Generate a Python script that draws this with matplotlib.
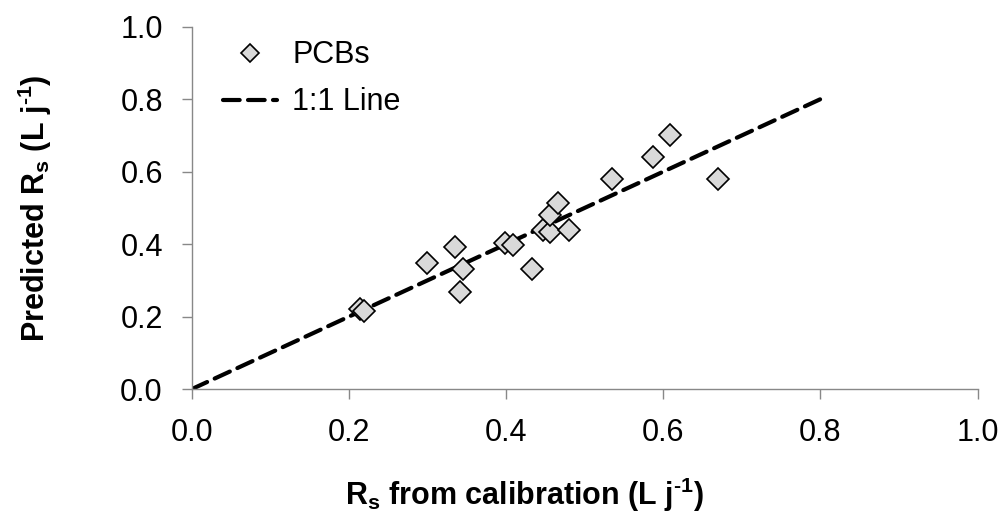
import matplotlib
matplotlib.use("Agg")
import matplotlib.pyplot as plt

plt.rcParams['font.family'] = ['Liberation Sans', 'DejaVu Sans']
plt.rcParams['mathtext.fontset'] = 'custom'
plt.rcParams['mathtext.rm'] = 'Liberation Sans'
plt.rcParams['mathtext.bf'] = 'Liberation Sans:bold'

# Rs from calibration vs predicted Rs (L j-1)
rs_calib = [0.214, 0.219, 0.299, 0.335, 0.341, 0.345, 0.399, 0.408, 0.433,
            0.447, 0.456, 0.456, 0.466, 0.480, 0.534, 0.587, 0.608, 0.670]
rs_pred = [0.220, 0.215, 0.348, 0.392, 0.268, 0.331, 0.403, 0.397, 0.331,
           0.439, 0.433, 0.480, 0.513, 0.439, 0.579, 0.640, 0.700, 0.580]
line_x = [0.0, 0.8]
line_y = [0.0, 0.8]
ticks = [0.0, 0.2, 0.4, 0.6, 0.8, 1.0]

fig = plt.figure(figsize=(10.03, 5.13), dpi=100)
ax = fig.add_axes([0.1914, 0.2417, 0.7833, 0.7063])

ax.plot(rs_calib, rs_pred, linestyle='none', marker='D', markersize=10.7,
        markerfacecolor='#d9d9d9', markeredgecolor='black',
        markeredgewidth=1.2, label='PCBs', zorder=3)
ax.plot(line_x, line_y, color='black', linewidth=3, dashes=(4, 2),
        dash_capstyle='round', label='1:1 Line', zorder=2)

ax.set_xlim(0, 1.0)
ax.set_ylim(0, 1.0)
ax.set_xticks(ticks)
ax.set_yticks(ticks)
ax.set_xticklabels([f"{t:.1f}" for t in ticks])
ax.set_yticklabels([f"{t:.1f}" for t in ticks])

for side in ['top', 'right']:
    ax.spines[side].set_visible(False)
for side in ['left', 'bottom']:
    ax.spines[side].set_color('#888888')
    ax.spines[side].set_linewidth(1.0)
ax.tick_params(axis='both', direction='out', length=7, width=1.0,
               color='#888888', labelsize=22, pad=14)

ax.set_xlabel('R$_\\mathbf{s}$ from calibration (L j$^\\mathbf{\u20101}$)',
              fontsize=22, fontweight='bold', labelpad=20)
ax.xaxis.label.set_x(0.423)
ax.set_ylabel('Predicted R$_\\mathbf{s}$ (L j$^\\mathbf{\u20101}$)',
              fontsize=22, fontweight='bold', labelpad=48)

ax.legend(loc='upper left', bbox_to_anchor=(0.04, 0.962), frameon=False,
          fontsize=22, borderpad=0, borderaxespad=0, handlelength=1.75,
          handletextpad=0.5, labelspacing=0.55, markerscale=0.85)

fig.savefig('out.png', dpi=100)
plt.close(fig)
